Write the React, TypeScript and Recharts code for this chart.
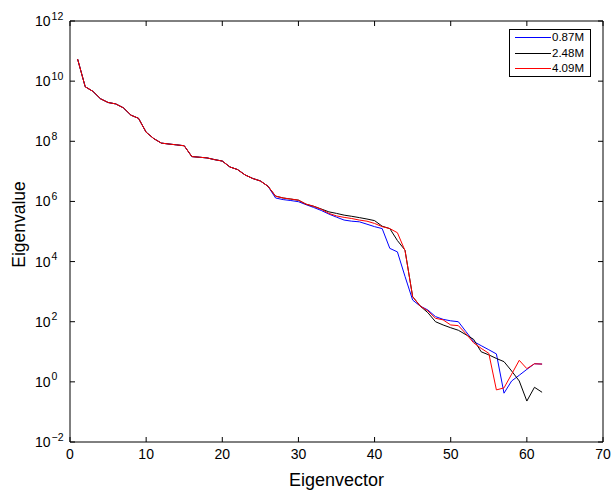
import React from "react"
import { LineChart, Line, XAxis, YAxis, Legend } from "recharts"

// eigenvector index
const idx = [
  1, 2, 3, 4, 5, 6, 7, 8, 9, 10, 11, 12, 13, 14, 15, 16, 17, 18, 19, 20, 21,
  22, 23, 24, 25, 26, 27, 28, 29, 30, 31, 32, 33, 34, 35, 36, 37, 38, 39, 40,
  41, 42, 43, 44, 45, 46, 47, 48, 49, 50, 51, 52, 53, 54, 55, 56, 57, 58, 59,
  60, 61, 62,
]

// first 26 eigenvalues are the same for every run
const head = [
  5.4e10, 6.5e9, 4.6e9, 2.6e9, 1.95e9, 1.75e9, 1.3e9, 7.4e8, 5.8e8, 2.0e8,
  1.23e8, 8.7e7, 8.1e7, 7.6e7, 7.1e7, 3.1e7, 2.95e7, 2.8e7, 2.45e7, 2.2e7,
  1.4e7, 1.15e7, 7.6e6, 5.8e6, 4.8e6, 3.2e6,
]

const run087 = [
  ...head,
  1.3e6, 1.15e6, 1.07e6, 9.8e5, 7.8e5, 6.3e5, 5.0e5, 3.8e5, 3.0e5, 2.4e5,
  2.2e5, 2.1e5, 1.75e5, 1.45e5, 1.25e5, 2.75e4, 2.1e4, 3.2e3, 525, 330, 245,
  148, 120, 107, 100, 47, 22, 16, 11.7, 8.5, 0.42, 1.07, 1.66, 2.6, 4.0, 3.9,
]

const run248 = [
  ...head,
  1.5e6, 1.3e6, 1.2e6, 1.1e6, 8.1e5, 6.9e5, 5.6e5, 4.5e5, 4.0e5, 3.5e5,
  3.2e5, 2.9e5, 2.6e5, 2.3e5, 1.5e5, 1.25e5, 5.0e4, 2.4e4, 680, 330, 200,
  100, 78, 63, 52, 37, 26, 10, 7.9, 6.0, 4.7, 2.3, 1.07, 0.23, 0.66, 0.45,
]

const run409 = [
  ...head,
  1.5e6, 1.3e6, 1.2e6, 1.1e6, 8.1e5, 6.9e5, 5.5e5, 4.0e5, 3.3e5, 2.95e5,
  2.7e5, 2.4e5, 2.2e5, 1.85e5, 1.45e5, 1.25e5, 9.1e4, 2.3e4, 680, 330, 230,
  130, 115, 78, 74, 40, 20, 13, 8.9, 0.54, 0.63, 1.8, 5.2, 2.75, 4.0, 3.9,
]

const names = ["0.87M", "2.48M", "4.09M"]
const colors = ["#0000ff", "#000000", "#ff0000"]

const xTicks = [0, 10, 20, 30, 40, 50, 60, 70]
const yTicks = [1e-2, 1, 1e2, 1e4, 1e6, 1e8, 1e10, 1e12]

const FONT = "'Liberation Sans', Arial, Helvetica, sans-serif"

const data = idx.map((x, i) => ({
  x,
  a: run087[i],
  b: run248[i],
  c: run409[i],
}))

const supText = (v: number) => {
  const e = Math.round(Math.log10(v))
  return e < 0 ? "\u2212" + Math.abs(e) : String(e)
}

// tickSize is negative so tick marks point into the plot; labels are
// placed from the axis line, which sits 5px before p.x / p.y
const leftTick = (p: any) => (
  <text key={"l" + p.index} x={p.x - 40} y={p.y + 5} fontSize={14} fill="#000" fontFamily={FONT}>
    10
    <tspan dx={1} dy={-6.5} fontSize={10.5}>
      {supText(p.payload.value)}
    </tspan>
  </text>
)

const bottomTick = (p: any) => (
  <text key={"b" + p.index} x={p.x} y={p.y + 22} fontSize={14} fill="#000" textAnchor="middle" fontFamily={FONT}>
    {p.payload.value}
  </text>
)

const noTick = () => <g />

const LegendBox = (props: any) => {
  const items = props.payload || []
  return (
    <div
      style={{
        position: "relative",
        border: "1px solid #000",
        background: "#fff",
        width: 80,
        height: 46,
        fontFamily: FONT,
        fontSize: 11.5,
        color: "#000",
        boxSizing: "content-box",
      }}
    >
      {names.map((nm, i) => {
        const top = [7, 23, 38][i]
        const it = items.find((d: any) => d.value === nm)
        return (
          <React.Fragment key={nm}>
            <div style={{ position: "absolute", left: 5, top, width: 36, height: 1, background: colors[i] }} />
            <div style={{ position: "absolute", left: 42, top: top - 7, lineHeight: "14px" }}>
              {it ? it.value : nm}
            </div>
          </React.Fragment>
        )
      })}
    </div>
  )
}

const tickLine = { stroke: "#000" }

export default function App() {
  return (
    <div style={{ position: "absolute", left: 0, top: 0 }}>
      <LineChart
        width={614}
        height={493}
        data={data}
        margin={{ top: 20, right: 10, bottom: 11, left: 10 }}
      >
        <XAxis
          dataKey="x"
          type="number"
          domain={[0, 70]}
          ticks={xTicks}
          height={40}
          tickSize={-5}
          tickMargin={0}
          tickLine={tickLine}
          axisLine={{ stroke: "#000" }}
          tick={bottomTick}
          label={{
            content: (p: any) => {
              const vb = p.viewBox || { x: 70, y: 442, width: 533 }
              return (
                <text x={vb.x + vb.width / 2} y={vb.y + 44} fontSize={18} textAnchor="middle" fill="#000" fontFamily={FONT}>
                  Eigenvector
                </text>
              )
            },
          }}
        />
        <XAxis
          xAxisId="top"
          orientation="top"
          dataKey="x"
          type="number"
          domain={[0, 70]}
          ticks={xTicks}
          height={1}
          tickSize={-5}
          tickMargin={0}
          tickLine={tickLine}
          axisLine={{ stroke: "#000" }}
          tick={noTick}
        />
        <YAxis
          scale="log"
          type="number"
          domain={[1e-2, 1e12]}
          allowDataOverflow
          ticks={yTicks}
          width={60}
          tickSize={-5}
          tickMargin={0}
          tickLine={tickLine}
          axisLine={{ stroke: "#000" }}
          tick={leftTick}
          label={{
            content: (p: any) => {
              const vb = p.viewBox || { x: 10, y: 21, height: 421 }
              const cy = vb.y + vb.height / 2 - 7
              return (
                <text
                  x={25}
                  y={cy}
                  transform={`rotate(-90 25 ${cy})`}
                  fontSize={17.5}
                  textAnchor="middle"
                  fill="#000"
                  fontFamily={FONT}
                >
                  Eigenvalue
                </text>
              )
            },
          }}
        />
        <YAxis
          yAxisId="right"
          orientation="right"
          scale="log"
          type="number"
          domain={[1e-2, 1e12]}
          allowDataOverflow
          ticks={yTicks}
          width={1}
          tickSize={-5}
          tickMargin={0}
          tickLine={tickLine}
          axisLine={{ stroke: "#000" }}
          tick={noTick}
        />
        <Legend
          layout="vertical"
          align="center"
          verticalAlign="middle"
          content={<LegendBox />}
          wrapperStyle={{ top: 29, left: 509, width: 82, height: 48 }}
        />
        <Line dataKey="a" name={names[0]} stroke={colors[0]} strokeWidth={1} dot={false} isAnimationActive={false} />
        <Line dataKey="b" name={names[1]} stroke={colors[1]} strokeWidth={1} dot={false} isAnimationActive={false} />
        <Line
          dataKey="c"
          name={names[2]}
          xAxisId="top"
          yAxisId="right"
          stroke={colors[2]}
          strokeWidth={1}
          dot={false}
          isAnimationActive={false}
        />
      </LineChart>
    </div>
  )
}
